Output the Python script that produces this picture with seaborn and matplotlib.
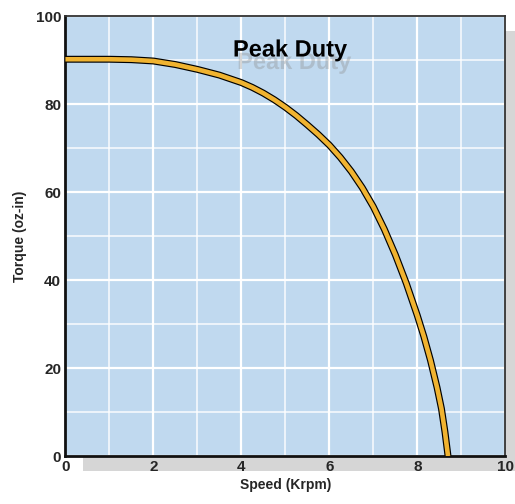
import matplotlib
matplotlib.use("Agg")
import matplotlib.pyplot as plt
import matplotlib.patheffects as pe
from matplotlib.patches import Rectangle
from matplotlib.ticker import MultipleLocator
import pandas as pd
import seaborn as sb

# values
speed = [0, 1, 1.5, 2, 2.5, 3, 3.5, 4, 4.25, 4.5, 4.75, 5, 5.25, 5.5, 5.75, 6, 6.25, 6.5, 6.75,
         7, 7.25, 7.5, 7.75, 8, 8.15, 8.3, 8.45, 8.55, 8.63, 8.7]
torque = [90.2, 90.2, 90.1, 89.8, 89.0, 87.9, 86.6, 84.9, 83.8, 82.5, 81.0, 79.3, 77.4, 75.3, 73.1,
          70.7, 67.9, 64.7, 61.0, 56.7, 51.6, 45.8, 39.3, 32.0, 27.2, 21.8, 15.6, 10.8, 5.5, 0.0]
x_ticks = [0, 2, 4, 6, 8, 10]
y_ticks = [0, 20, 40, 60, 80, 100]
title = "Peak Duty"

data = pd.DataFrame({"speed": speed, "torque": torque})

sb.set_style("white")
plt.rcParams["font.family"] = ["Liberation Sans", "DejaVu Sans"]
plt.rcParams["font.weight"] = "bold"

fig = plt.figure(figsize=(5.15, 5.04), dpi=100)
ax = fig.add_axes([0.127, 0.095, 0.854, 0.873])

# drop shadow behind the plot area
shadow = Rectangle((0.127 + 0.035, 0.095 - 0.03), 0.854, 0.873, transform=fig.transFigure,
                   facecolor="#d6d6d6", edgecolor="none", zorder=-5)
fig.patches.append(shadow)

ax.set_facecolor("#c0d9ef")
ax.set_xlim(0, 10)
ax.set_ylim(0, 100)
ax.xaxis.set_minor_locator(MultipleLocator(1))
ax.yaxis.set_minor_locator(MultipleLocator(10))
ax.set_xticks(x_ticks)
ax.set_yticks(y_ticks)
ax.grid(which="major", color="white", linewidth=1.6)
ax.grid(which="minor", color="white", linewidth=1.2, alpha=0.85)
ax.set_axisbelow(True)

# curve: black outline with orange core
sb.lineplot(data=data, x="speed", y="torque", ax=ax, color="black", linewidth=5.0,
            solid_capstyle="butt", solid_joinstyle="round", zorder=3)
sb.lineplot(data=data, x="speed", y="torque", ax=ax, color="#f0b330", linewidth=3.3,
            solid_capstyle="butt", solid_joinstyle="round", zorder=4)

ax.tick_params(axis="both", which="both", length=0, labelsize=11, pad=3)
for lab in ax.get_xticklabels() + ax.get_yticklabels():
    lab.set_fontweight("bold")

ax.set_xlabel("Speed (Krpm)", fontsize=10, fontweight="bold", labelpad=3)
ax.set_ylabel("Torque (oz-in)", fontsize=10, fontweight="bold", labelpad=6)

for side in ["left", "bottom"]:
    ax.spines[side].set_color("#111111")
    ax.spines[side].set_linewidth(2.0)
for side in ["top", "right"]:
    ax.spines[side].set_color("#333333")
    ax.spines[side].set_linewidth(1.3)

# title with a faded drop shadow
ax.text(5.11, 92.3, title, fontsize=17, fontweight="bold", color="black",
        ha="center", va="center", zorder=5,
        path_effects=[pe.SimplePatchShadow(offset=(3, -9), shadow_rgbFace="#8a8a8a", alpha=0.35),
                      pe.Normal()])

plt.savefig("out.png", dpi=100)
plt.close()
